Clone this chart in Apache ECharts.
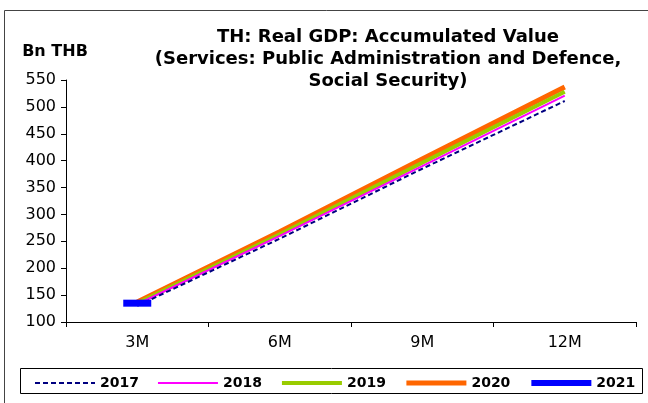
<!DOCTYPE html>
<html>
<head>
<meta charset="utf-8">
<script src="https://cdn.jsdelivr.net/npm/echarts@6/dist/echarts.min.js"></script>
<style>
  html, body { margin: 0; padding: 0; background: #fff; }
  #chart { width: 648px; height: 403px; }
</style>
</head>
<body>
<div id="chart"></div>
<script>
// quarters on the x axis
const categories = ['3M', '6M', '9M', '12M'];
// accumulated values, Bn THB
const y2017 = [130, 255, 385, 511];
const y2018 = [133, 260, 390, 521];
const y2019 = [135, 263, 396, 528];
const y2020 = [137, 268, 403, 537];
const y2021 = [135, null, null, null];
const yTicks = [100, 150, 200, 250, 300, 350, 400, 450, 500, 550];

const myChart = echarts.init(document.getElementById('chart'));

const font = 'DejaVu Sans, Arial, sans-serif';

const option = {
  backgroundColor: '#fff',
  animation: false,
  textStyle: { fontFamily: font },
  title: {
    text: 'TH: Real GDP: Accumulated Value\n(Services: Public Administration and Defence,\nSocial Security)',
    left: 383,
    top: 21,
    padding: 5,
    textAlign: 'center',
    textStyle: {
      fontFamily: font,
      fontSize: 18,
      fontWeight: 'bold',
      color: '#000',
      lineHeight: 22
    }
  },
  graphic: [
    {
      // outer chart frame
      type: 'rect',
      silent: true,
      shape: { x: 4.5, y: 10.5, width: 700, height: 500 },
      style: { fill: 'none', stroke: '#444', lineWidth: 1 }
    },
    {
      // legend frame
      type: 'rect',
      silent: true,
      shape: { x: 20.5, y: 368.5, width: 622, height: 25 },
      style: { fill: 'none', stroke: '#000', lineWidth: 1 }
    }
  ],
  legend: {
    left: 34,
    top: 376,
    width: 612,
    padding: 0,
    itemWidth: 60,
    itemHeight: 10,
    itemGap: 18,
    itemStyle: { opacity: 0 },
    lineStyle: { width: 'inherit' },
    textStyle: { fontFamily: font, fontSize: 14, fontWeight: 'bold', color: '#000' },
    data: ['2017', '2018', '2019', '2020', '2021']
  },
  grid: {
    left: 66,
    right: 12,
    top: 80,
    bottom: 81
  },
  xAxis: {
    type: 'category',
    data: categories,
    boundaryGap: true,
    axisLine: { lineStyle: { color: '#000', width: 1 } },
    axisTick: { show: true, length: 5, lineStyle: { color: '#000' } },
    axisLabel: { color: '#000', fontSize: 16, margin: 13, fontFamily: font }
  },
  yAxis: {
    type: 'value',
    min: yTicks[0],
    max: yTicks[yTicks.length - 1],
    interval: 50,
    name: 'Bn THB',
    nameLocation: 'end',
    nameGap: 20,
    nameTextStyle: {
      fontFamily: font,
      fontSize: 16,
      fontWeight: 'bold',
      color: '#000',
      align: 'center',
      padding: [0, 22, 0, 0]
    },
    axisLine: { show: true, lineStyle: { color: '#000', width: 1 } },
    axisTick: { show: true, length: 5, lineStyle: { color: '#000' } },
    axisLabel: { color: '#000', fontSize: 16, margin: 10, fontFamily: font },
    splitLine: { show: false }
  },
  series: [
    {
      name: '2017',
      type: 'line',
      data: y2017,
      symbol: 'none',
      z: 6,
      lineStyle: { color: '#000080', width: 2, type: [5, 3] },
      itemStyle: { color: '#000080' }
    },
    {
      name: '2018',
      type: 'line',
      data: y2018,
      symbol: 'none',
      z: 5,
      lineStyle: { color: '#ff00ff', width: 2 },
      itemStyle: { color: '#ff00ff' }
    },
    {
      name: '2019',
      type: 'line',
      data: y2019,
      symbol: 'none',
      z: 4,
      lineStyle: { color: '#99cc00', width: 4 },
      itemStyle: { color: '#99cc00' }
    },
    {
      name: '2020',
      type: 'line',
      data: y2020,
      symbol: 'none',
      z: 3,
      lineStyle: { color: '#ff6600', width: 5 },
      itemStyle: { color: '#ff6600' }
    },
    {
      name: '2021',
      type: 'line',
      data: y2021,
      symbol: 'rect',
      symbolSize: [28, 7],
      showSymbol: true,
      z: 7,
      lineStyle: { color: '#0000ff', width: 6 },
      itemStyle: { color: '#0000ff' }
    }
  ]
};

myChart.setOption(option);
</script>
</body>
</html>
